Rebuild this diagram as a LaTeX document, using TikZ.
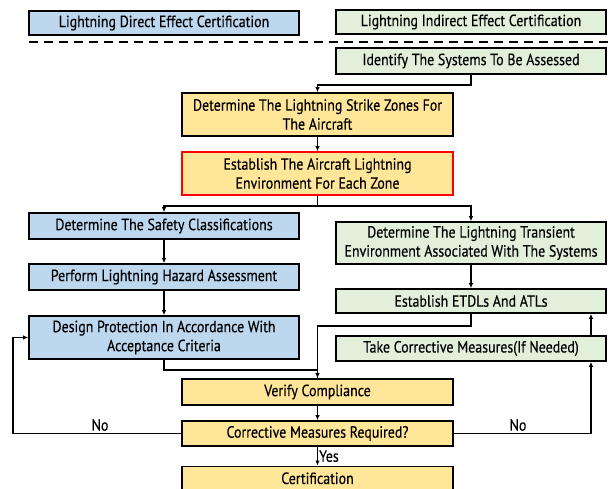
\documentclass[tikz,border=0pt]{standalone}
\usepackage{fontspec}
\setmainfont[FakeStretch=0.86,FakeBold=0.4]{PT Sans}
\usetikzlibrary{arrows.meta}
\definecolor{bfill}{HTML}{BDD7EE}
\definecolor{gfill}{HTML}{E2EFDA}
\definecolor{yfill}{HTML}{FFE699}
\definecolor{rborder}{HTML}{FF0000}
\tikzset{
  box/.style={draw=black, line width=1.6pt, minimum width=#1, inner sep=1pt, align=center, font=\fontsize{16.2}{19}\selectfont},
  bluebox/.style={box=270pt, fill=bfill},
  greenbox/.style={box=270pt, fill=gfill},
  yelbox/.style={box=271pt, fill=yfill},
  conn/.style={line width=1.4pt, -{Latex[length=5pt,width=4.5pt]}},
  plain/.style={line width=1.4pt},
  lbl/.style={font=\fontsize{16.2}{19}\selectfont, inner sep=1pt},
}
\begin{document}
\begin{tikzpicture}[x=1pt,y=-1pt]
\useasboundingbox (0,0) rectangle (608,488);
\fill[white] (0,0) rectangle (608,488);
\node[bluebox, minimum height=24pt] (direct) at (164,23) {Lightning Direct Effect Certification};
\node[greenbox, minimum height=24pt] (indirect) at (471,22) {Lightning Indirect Effect Certification};
\coordinate (dl) at (29,42);
\coordinate (dr) at (610,42);
\draw[line width=1.6pt, dash pattern=on 9pt off 6pt] (dl) -- (dr);
\node[greenbox, minimum height=26pt] (identify) at (471,61) {Identify The Systems To Be Assessed};
\node[yelbox, minimum height=43pt] (zones) at (317.5,114.5) {Determine The Lightning Strike Zones For\\The Aircraft};
\node[yelbox, minimum height=43pt, draw=rborder] (env) at (317.5,173.5) {Establish The Aircraft Lightning\\Environment For Each Zone};
\node[bluebox, minimum height=26pt] (safety) at (164,226) {Determine The Safety Classifications};
\node[greenbox, minimum height=42pt] (transient) at (471,243) {Determine The Lightning Transient\\Environment Associated With The Systems};
\node[bluebox, minimum height=26pt] (hazard) at (164,277) {Perform Lightning Hazard Assessment};
\node[greenbox, minimum height=24pt] (etdl) at (471,301) {Establish ETDLs And ATLs};
\node[bluebox, minimum height=43pt] (design) at (164,337.5) {Design Protection In Accordance With\\Acceptance Criteria};
\node[greenbox, minimum height=25pt] (take) at (471,348.5) {Take Corrective Measures(If Needed)};
\node[yelbox, minimum height=26pt] (verify) at (317.5,392) {Verify Compliance};
\node[yelbox, minimum height=25pt] (corr) at (317.5,433.5) {Corrective Measures Required?};
\node[yelbox, minimum height=24pt, anchor=north] (cert) at (317.5,465.5) {Certification};
% connectors
\draw[conn] (identify.south) -- ++(0,10) -| (zones.north);
\draw[conn] (zones) -- (env);
\draw[conn] (env.south) -- ++(0,10) -| (safety.north);
\draw[conn] (env.south) -- ++(0,10) -| (transient.north);
\draw[conn] (safety) -- (hazard);
\draw[conn] (hazard) -- (design);
\draw[conn] (transient) -- (etdl);
\draw[plain] (design.south) -- ++(0,10) -| (verify.north);
\draw[conn] (etdl.south) -- ++(0,12) -| (verify.north);
\draw[conn] (verify) -- (corr);
\draw[conn] (corr) -- node[lbl, right] {Yes} (cert);
\coordinate (lx) at (13,433.5);
\draw[conn] (corr.west) -- (lx) |- (design.west);
\node[lbl, anchor=south] (no1) at (100,432) {No};
\coordinate (rx) at (591,433.5);
\draw[conn] (corr.east) -- (rx) -- (rx |- take.south);
\node[lbl, anchor=south] (no2) at (518,432) {No};
\draw[conn] (take.north -| rx) -- (etdl.south -| rx);
\end{tikzpicture}
\end{document}
